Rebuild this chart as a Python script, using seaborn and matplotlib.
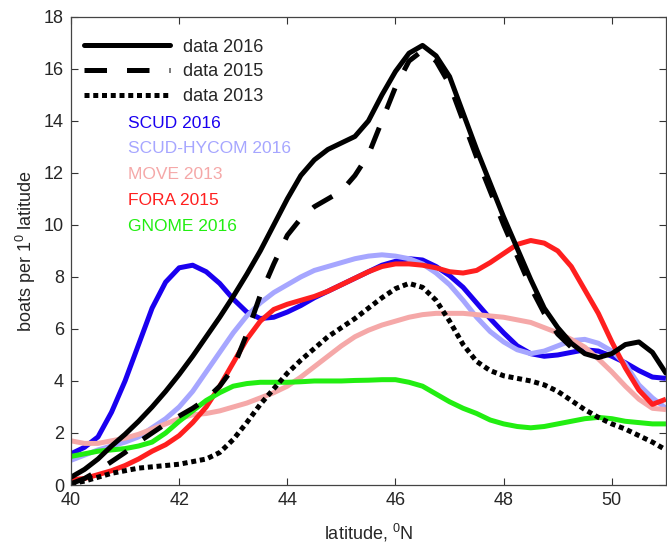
import matplotlib
matplotlib.use("Agg")
import matplotlib.pyplot as plt
from matplotlib.lines import Line2D
import numpy as np
import pandas as pd
import seaborn as sns

# latitude grid (degrees N)
lat = [40.0, 40.25, 40.5, 40.75, 41.0, 41.25, 41.5, 41.75, 42.0, 42.25, 42.5,
       42.75, 43.0, 43.25, 43.5, 43.75, 44.0, 44.25, 44.5, 44.75, 45.0, 45.25,
       45.5, 45.75, 46.0, 46.25, 46.5, 46.75, 47.0, 47.25, 47.5, 47.75, 48.0,
       48.25, 48.5, 48.75, 49.0, 49.25, 49.5, 49.75, 50.0, 50.25, 50.5, 50.75,
       51.0]

data_2016 = [0.3, 0.6, 1.0, 1.5, 1.95, 2.45, 3.0, 3.6, 4.25, 4.95, 5.7,
             6.45, 7.25, 8.1, 9.0, 10.0, 11.0, 11.9, 12.5, 12.9, 13.15, 13.4,
             14.0, 15.0, 15.9, 16.6, 16.9, 16.5, 15.7, 14.3, 12.9, 11.6, 10.3,
             9.1, 7.9, 6.8, 6.05, 5.45, 5.05, 4.9, 5.05, 5.4, 5.5, 5.1,
             4.3]

lat_2015 = lat[:39]
data_2015 = [0.05, 0.25, 0.55, 0.9, 1.25, 1.65, 2.0, 2.35, 2.65, 2.95, 3.3,
             3.8, 4.5, 5.8, 7.3, 8.5, 9.6, 10.25, 10.7, 11.0, 11.3, 11.9,
             12.7, 14.0, 15.3, 16.3, 16.7, 16.3, 15.4, 14.0, 12.6, 11.3, 10.0,
             8.8, 7.6, 6.6, 5.8, 5.3, 5.0]

data_2013 = [0.05, 0.15, 0.3, 0.45, 0.55, 0.65, 0.7, 0.75, 0.8, 0.9, 1.0,
             1.25, 1.75, 2.4, 3.1, 3.7, 4.3, 4.8, 5.25, 5.7, 6.05, 6.4,
             6.8, 7.2, 7.55, 7.75, 7.6, 7.1, 6.3, 5.4, 4.75, 4.4, 4.2,
             4.1, 4.0, 3.85, 3.6, 3.25, 2.9, 2.6, 2.35, 2.15, 1.9, 1.65,
             1.35]

scud_2016 = [1.2, 1.45, 1.85, 2.8, 4.0, 5.4, 6.8, 7.8, 8.35, 8.45, 8.2,
             7.75, 7.15, 6.65, 6.4, 6.45, 6.65, 6.9, 7.2, 7.45, 7.7, 7.95,
             8.2, 8.45, 8.6, 8.7, 8.65, 8.4, 8.05, 7.6, 7.0, 6.4, 5.85,
             5.35, 5.05, 4.95, 5.0, 5.1, 5.2, 5.15, 4.95, 4.7, 4.4, 4.15,
             4.1]

scud_hycom_2016 = [0.95, 1.15, 1.35, 1.5, 1.65, 1.85, 2.2, 2.55, 3.0, 3.6, 4.35,
                   5.1, 5.85, 6.5, 7.0, 7.4, 7.7, 8.0, 8.25, 8.4, 8.55, 8.7,
                   8.8, 8.85, 8.8, 8.7, 8.5, 8.15, 7.7, 7.1, 6.45, 5.9, 5.5,
                   5.2, 5.05, 5.15, 5.35, 5.55, 5.6, 5.45, 5.15, 4.65, 3.85, 3.35,
                   2.95]

move_2013 = [1.7, 1.6, 1.6, 1.7, 1.8, 1.95, 2.15, 2.35, 2.55, 2.7, 2.75,
             2.85, 3.0, 3.15, 3.35, 3.55, 3.8, 4.15, 4.55, 4.95, 5.35, 5.7,
             5.95, 6.15, 6.3, 6.45, 6.55, 6.6, 6.6, 6.6, 6.55, 6.5, 6.45,
             6.35, 6.25, 6.05, 5.85, 5.6, 5.3, 4.85, 4.35, 3.8, 3.3, 2.95,
             2.9]

fora_2015 = [0.2, 0.25, 0.4, 0.55, 0.75, 1.0, 1.3, 1.55, 1.9, 2.4, 3.0,
             3.8, 4.7, 5.6, 6.3, 6.75, 6.95, 7.1, 7.25, 7.45, 7.7, 7.95,
             8.2, 8.4, 8.5, 8.5, 8.45, 8.35, 8.2, 8.15, 8.25, 8.55, 8.9,
             9.25, 9.4, 9.3, 9.0, 8.4, 7.5, 6.6, 5.5, 4.5, 3.65, 3.1,
             3.3]

gnome_2016 = [1.1, 1.2, 1.3, 1.35, 1.4, 1.5, 1.65, 2.0, 2.45, 2.85, 3.25,
              3.55, 3.8, 3.9, 3.95, 3.95, 3.95, 3.97, 4.0, 4.0, 4.0, 4.02,
              4.03, 4.05, 4.05, 3.95, 3.8, 3.5, 3.2, 2.95, 2.75, 2.5, 2.35,
              2.25, 2.2, 2.25, 2.35, 2.45, 2.55, 2.6, 2.55, 2.45, 2.4, 2.35,
              2.35]

model_names = ["SCUD 2016", "SCUD-HYCOM 2016", "MOVE 2013", "FORA 2015", "GNOME 2016"]
model_values = [scud_2016, scud_hycom_2016, move_2013, fora_2015, gnome_2016]
model_colors = ["#1a00f0", "#a6a6ff", "#f5a8a8", "#ff1f1f", "#22ee11"]

obs_names = ["data 2016", "data 2015", "data 2013"]

sns.set_style("ticks")
plt.rcParams["font.family"] = ["Liberation Sans", "DejaVu Sans"]
plt.rcParams["mathtext.fontset"] = "custom"
plt.rcParams["mathtext.rm"] = "Liberation Sans"
plt.rcParams["mathtext.it"] = "Liberation Sans"

fig = plt.figure(figsize=(6.67, 5.47), dpi=100)
ax = fig.add_axes([0.1064, 0.1133, 0.892, 0.856])

lw = 3.6
for name, vals, col in zip(model_names, model_values, model_colors):
    df = pd.DataFrame({"lat": lat, "n": vals})
    sns.lineplot(data=df, x="lat", y="n", ax=ax, color=col, lw=lw,
                 solid_capstyle="butt", solid_joinstyle="round", legend=False)

obs = [(lat, data_2016, (None, None)),
       (lat_2015, data_2015, (4.5, 4.0)),
       (lat, data_2013, (1.0, 0.75))]
handles = []
for name, (xs, ys, dash) in zip(obs_names, obs):
    df = pd.DataFrame({"lat": xs, "n": ys})
    sns.lineplot(data=df, x="lat", y="n", ax=ax, color="black", lw=lw,
                 solid_joinstyle="round", legend=False)
    line = ax.lines[-1]
    if dash[0] is not None:
        line.set_dashes(dash)
        line.set_dash_capstyle("butt")
        line.set_dash_joinstyle("round")
    h = Line2D([], [], color="black", lw=lw)
    if dash[0] is not None:
        h.set_dashes(dash)
    handles.append(h)

leg = ax.legend(handles, obs_names, loc="upper left", frameon=False,
                fontsize=13, handlelength=4.8, handletextpad=0.7,
                labelspacing=0.42, borderaxespad=0.3,
                bbox_to_anchor=(0.0, 0.98))

label_y = [13.9, 12.95, 11.95, 10.92, 9.95]
for name, col, yy in zip(model_names, model_colors, label_y):
    ax.text(41.05, yy, name, color=col, fontsize=12.5, va="center", ha="left")

ax.set_xlim(40, 51)
ax.set_ylim(0, 18)
ax.set_xticks([40, 42, 44, 46, 48, 50])
ax.set_yticks(np.arange(0, 19, 2))
ax.tick_params(direction="in", top=True, right=True, labelsize=13,
               length=5, width=0.8, color="#333333", pad=5)
for sp in ax.spines.values():
    sp.set_visible(True)
    sp.set_color("#444444")
    sp.set_linewidth(0.9)
ax.set_xlabel(r"latitude, $^{0}$N", fontsize=13, labelpad=9)
ax.set_ylabel(r"boats per 1$^{0}$ latitude", fontsize=13, labelpad=4)

fig.savefig("out.png", dpi=100)
